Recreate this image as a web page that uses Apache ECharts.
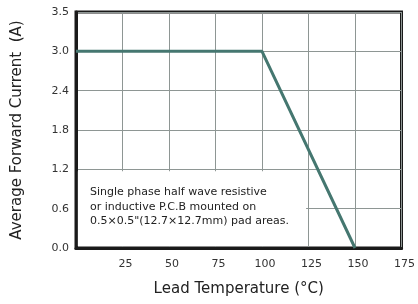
<!DOCTYPE html>
<html>
<head>
<meta charset="utf-8">
<script src="https://cdn.jsdelivr.net/npm/echarts@6/dist/echarts.min.js"></script>
<style>
  html, body { margin: 0; padding: 0; background: #fff; }
  #main { width: 418px; height: 304px; }
</style>
</head>
<body>
<div id="main"></div>
<script>
// derating curve: lead temperature (°C) vs. average forward current (A)
var temps = [0, 100, 150];
var current = [3.0, 3.0, 0.0];
var xTickLabels = ['', '25', '50', '75', '100', '125', '150', '175'];
var yTickLabels = ['0.0', '0.6', '1.2', '1.8', '2.4', '3.0', '3.5'];
var noteLines = [
    'Single phase half wave resistive',
    'or inductive P.C.B mounted on',
    '0.5\u00d70.5"(12.7\u00d712.7mm) pad areas.'
];

var dom = document.getElementById('main');
var myChart = echarts.init(dom);
var option = null;

var lineData = [];
for (var i = 0; i < temps.length; i++) {
    lineData.push([temps[i], current[i]]);
}

option = {
    animation: false,
    backgroundColor: '#fff',
    textStyle: { fontFamily: 'DejaVu Sans' },
    grid: {
        left: 76, right: 14, top: 12, bottom: 56,
        show: true,
        borderColor: '#1a1a1a',
        borderWidth: 3
    },
    xAxis: {
        type: 'value',
        min: 0, max: 175, interval: 25,
        name: 'Lead Temperature (\u00b0C)',
        nameLocation: 'middle',
        nameGap: 34,
        nameTextStyle: { fontSize: 15, color: '#222' },
        axisLine: { show: true, lineStyle: { color: '#1a1a1a', width: 3 } },
        axisTick: { show: false },
        axisLabel: {
            fontSize: 11, color: '#333', margin: 11, padding: [0, 0, 0, 6],
            formatter: function (v) { return xTickLabels[Math.round(v / 25)]; }
        },
        splitLine: { show: true, lineStyle: { color: '#8e9694', width: 1 } }
    },
    yAxis: {
        type: 'value',
        min: 0, max: 3.6, interval: 0.6,
        name: 'Average Forward Current  (A)',
        nameLocation: 'middle',
        nameGap: 51,
        nameRotate: 90,
        nameTextStyle: { fontSize: 15, color: '#222' },
        axisLine: { show: true, lineStyle: { color: '#1a1a1a', width: 3 } },
        axisTick: { show: false },
        axisLabel: {
            fontSize: 11, color: '#333', margin: 7,
            formatter: function (v) { return yTickLabels[Math.round(v / 0.6)]; }
        },
        splitLine: { show: true, lineStyle: { color: '#8e9694', width: 1 } }
    },
    series: [
        {
            type: 'line',
            data: lineData,
            symbol: 'none',
            lineStyle: { color: '#457770', width: 3 },
            markArea: {
                silent: true,
                itemStyle: { color: '#fff' },
                data: [[{ coord: [1, 0.03] }, { coord: [123.7, 1.17] }]]
            },
            z: 3
        }
    ],
    graphic: [
        {
            type: 'text',
            left: 90,
            top: 185,
            style: {
                text: noteLines.join('\n'),
                font: '11px "DejaVu Sans"',
                fill: '#222',
                lineHeight: 14.5
            },
            z: 10
        }
    ]
};
if (option && typeof option === "object") {
    myChart.setOption(option, true);
}
</script>
</body>
</html>
